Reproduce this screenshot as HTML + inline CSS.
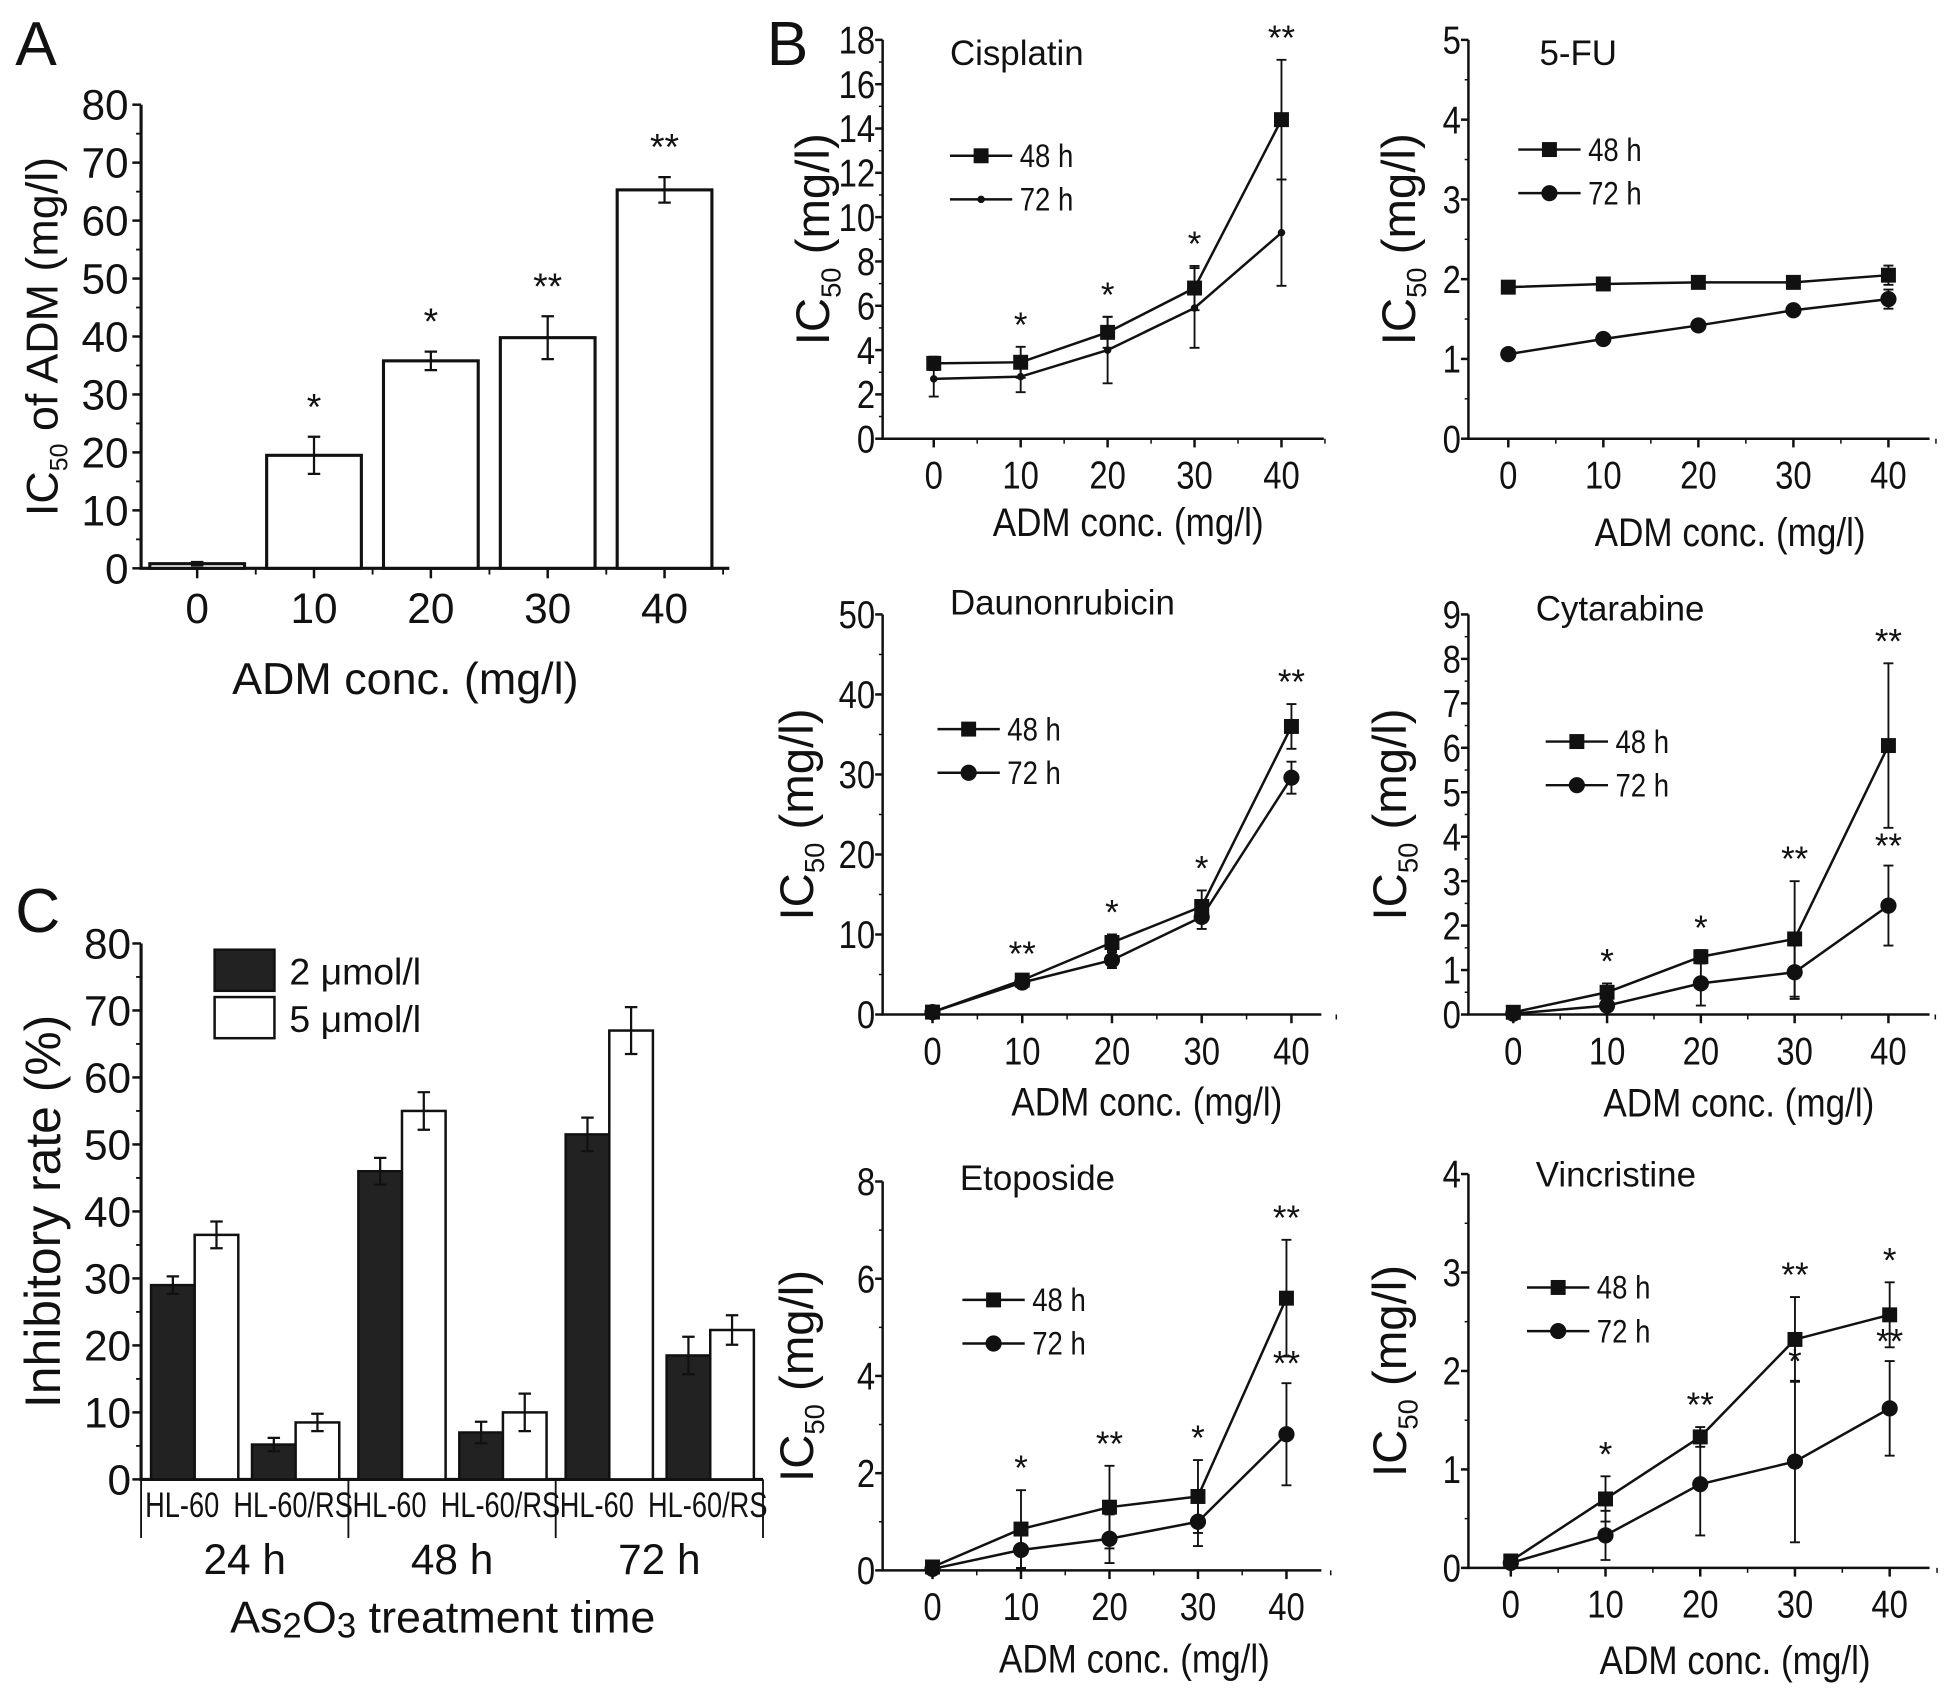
<!DOCTYPE html>
<html><head><meta charset="utf-8"><style>
html,body{margin:0;padding:0;background:#fff}
svg{display:block}
text{font-family:"Liberation Sans Narrow","Liberation Sans",sans-serif;fill:#111}
</style></head><body>
<svg id="fig" width="1951" height="1695" viewBox="0 0 1565 1360" xmlns="http://www.w3.org/2000/svg"></svg>
<script>
// ---- Panel A data
const aCats = ["0","10","20","30","40"];
const aVals = [0.8,19.5,35.8,39.8,65.3];
const aErrs = [0.3,3.2,1.6,3.7,2.2];
const aStars = ["","*","*","**","**"];
const aTicks = [0,10,20,30,40,50,60,70,80];
// ---- Panel B data
const xConc = [0,10,20,30,40];
const cis48 = [3.4,3.45,4.8,6.8,14.4], cis48e=[0.3,0.7,0.7,1.0,2.7];
const cis72 = [2.7,2.8,4.0,5.9,9.3], cis72e=[0.8,0.7,1.5,1.8,2.4];
const cisStars = ["","*","*","*","**"];
const fu48 = [1.9,1.94,1.96,1.96,2.05], fu48e=[0.05,0.05,0.05,0.05,0.12];
const fu72 = [1.06,1.25,1.42,1.61,1.75], fu72e=[0.04,0.04,0.04,0.04,0.12];
const fuStars = ["","","","",""];
const dau48 = [0.3,4.3,9.0,13.5,36.0], dau48e=[0.2,0.5,1.0,2.0,2.8];
const dau72 = [0.3,4.0,6.8,12.2,29.6], dau72e=[0.2,0.5,1.0,1.5,2.0];
const dauStars = ["","**","*","*","**"];
const cyt48 = [0.05,0.5,1.3,1.7,6.05], cyt48e=[0.05,0.2,0.15,1.3,1.85];
const cyt72 = [0.02,0.2,0.7,0.95,2.45], cyt72e=[0.02,0.2,0.5,0.6,0.9];
const cytStars = ["","*","*","**","**"];
const cytStars2 = ["","","","","**"];
const eto48 = [0.07,0.85,1.3,1.52,5.6], eto48e=[0.05,0.8,0.85,0.75,1.2];
const eto72 = [0.03,0.42,0.65,1.0,2.8], eto72e=[0.03,0.4,0.5,0.5,1.05];
const etoStars = ["","*","**","*","**"];
const etoStars2 = ["","","","","**"];
const vin48 = [0.07,0.7,1.33,2.32,2.57], vin48e=[0.03,0.23,0.1,0.43,0.33];
const vin72 = [0.05,0.33,0.85,1.08,1.62], vin72e=[0.03,0.25,0.52,0.82,0.48];
const vinStars = ["","*","**","**","*"];
const vinStars2 = ["","","","*","**"];
// ---- Panel C data
const cTimes = ["24 h","48 h","72 h"];
const cLines = ["HL-60","HL-60/RS"];
const c2 = [29,5.2,46,7,51.5,18.5];
const c2e = [1.3,1.0,2.0,1.6,2.5,2.8];
const c5 = [36.5,8.5,55,10,67,22.3];
const c5e = [2.0,1.3,2.8,2.8,3.5,2.2];
const cTicks = [0,10,20,30,40,50,60,70,80];

const svg = document.getElementById('fig');
const NS = "http://www.w3.org/2000/svg";
function el(tag, attrs, parent){const e=document.createElementNS(NS,tag);for(const k in attrs)e.setAttribute(k,attrs[k]);(parent||svg).appendChild(e);return e;}
function txt(s,x,y,size,anchor,parent){const t=el('text',{x:x,y:y,'font-size':size,'text-anchor':anchor||'middle'},parent);t.textContent=s;return t;}
function grp(name){const g=el('g',{});return g;}

// ===== Panel A =====
(function(){
  const g = grp('panel-a');
  const t=txt('A',12,52,50,'start',g);  
  const x0=113,x1=585,yb=456,yt=84,ymax=80;
  const Y=v=>yb-(v/ymax)*(yb-yt);
  const X=i=>158+i*93.75;
  const ax=el('path',{d:`M${x0} ${yt} L${x0} ${yb} L${x1} ${yb}`,stroke:'#111','stroke-width':2.5,fill:'none'},g);
   
  aTicks.forEach(v=>{el('line',{x1:x0-7,x2:x0,y1:Y(v),y2:Y(v),stroke:'#111','stroke-width':2},g);
    if(v<ymax) el('line',{x1:x0-4,x2:x0,y1:Y(v+5),y2:Y(v+5),stroke:'#111','stroke-width':1.5},g);
    const l=txt(String(v),x0-10,Y(v)+12,34,'end',g);  });
  aCats.forEach((c,i)=>{
    el('line',{x1:X(i),x2:X(i),y1:yb,y2:yb+8,stroke:'#111','stroke-width':2},g);
    el('line',{x1:X(i)+47,x2:X(i)+47,y1:yb,y2:yb+5,stroke:'#111','stroke-width':1.5},g);
    const l=txt(c,X(i),yb+44,34,'middle',g);  
    const b=el('rect',{x:X(i)-38,y:Y(aVals[i]),width:76,height:yb-Y(aVals[i]),fill:'#fff',stroke:'#111','stroke-width':2.5},g);
     
    const e1=Y(aVals[i]+aErrs[i]),e2=Y(aVals[i]-aErrs[i]);
    el('path',{d:`M${X(i)} ${e1}L${X(i)} ${e2}M${X(i)-5} ${e1}L${X(i)+5} ${e1}M${X(i)-5} ${e2}L${X(i)+5} ${e2}`,stroke:'#111','stroke-width':1.8,fill:'none'},g);
    if(aStars[i]){const s=txt(aStars[i],X(i),e1-14,30,'middle',g);}
  });
  const yt2=el('text',{transform:'translate(46,270) rotate(-90)','font-size':36,'text-anchor':'middle'},g);
  yt2.innerHTML='IC<tspan font-size="20" dy="8">50</tspan><tspan dy="-8"> of ADM (mg/l)</tspan>';
   
  const xt=txt('ADM conc. (mg/l)',325,557,36,'middle',g);  
})();

// ===== Panel B line panels =====
function linePanel(cfg){
  const g=grp(cfg.name);
  const {ax0,ax1,yb,yt,ymax,ystep,xs,title,tx,ty,lx,ly,s48,e48,s72,e72,stars,stars2,marker72,ytx,xtx,xty}=cfg;
  const Y=v=>yb-(v/ymax)*(yb-yt);
  const X=v=>xs[0]+(v/40)*(xs[1]-xs[0]);
  const ax=el('path',{d:`M${ax0} ${yt} L${ax0} ${yb} L${ax1} ${yb}`,stroke:'#111','stroke-width':2,fill:'none'},g);
   
  for(let v=0;v<=ymax+1e-9;v+=ystep){
    el('line',{x1:ax0-6,x2:ax0,y1:Y(v),y2:Y(v),stroke:'#111','stroke-width':2},g);
    if(v+ystep/2<=ymax) el('line',{x1:ax0-3,x2:ax0,y1:Y(v+ystep/2),y2:Y(v+ystep/2),stroke:'#111','stroke-width':1.2},g);
    const l=txt(String(Math.round(v*10)/10),ax0-6,Y(v)+11,31,'end',g); l.setAttribute('transform',`translate(${ax0-6} 0) scale(0.85 1) translate(${-(ax0-6)} 0)`);
     
  }
  xConc.forEach(c=>{el('line',{x1:X(c),x2:X(c),y1:yb,y2:yb+7,stroke:'#111','stroke-width':2},g);
    el('line',{x1:X(c+5),x2:X(c+5),y1:yb,y2:yb+4,stroke:'#111','stroke-width':1.2},g);
    const l=txt(String(c),X(c),yb+40,31,'middle',g); l.setAttribute('transform',`translate(${X(c)} 0) scale(0.85 1) translate(${-X(c)} 0)`);
     });
  const series=[[s48,e48,'sq','48h'],[s72,e72,marker72,'72h']];
  series.forEach(([s,e,m,nm])=>{
    const p=el('polyline',{points:xConc.map((c,i)=>X(c)+','+Y(s[i])).join(' '),fill:'none',stroke:'#111','stroke-width':2},g);
     
    xConc.forEach((c,i)=>{
      const x=X(c),a=Y(s[i]+e[i]),b=Y(Math.max(0,s[i]-e[i]));
      el('path',{d:`M${x} ${a}L${x} ${b}M${x-4} ${a}L${x+4} ${a}M${x-4} ${b}L${x+4} ${b}`,stroke:'#111','stroke-width':1.5,fill:'none'},g);
      let mk;
      if(m==='sq') mk=el('rect',{x:x-6,y:Y(s[i])-6,width:12,height:12,fill:'#111'},g);
      else if(m==='ci') mk=el('circle',{cx:x,cy:Y(s[i]),r:6.5,fill:'#111'},g);
      else mk=el('circle',{cx:x,cy:Y(s[i]),r:3,fill:'#111'},g);
       
    });
  });
  xConc.forEach((c,i)=>{
    if(stars[i]){const s=txt(stars[i],X(c),Y(s48[i]+e48[i])-8,28,'middle',g);}
    if(stars2&&stars2[i]){const s=txt(stars2[i],X(c),Y(s72[i]+e72[i])-6,28,'middle',g);}
  });
  const t=txt(title,tx,ty,28,'start',g);  
  [['48 h','sq',ly],['72 h',marker72,ly+35]].forEach(([lab,m,y])=>{
    const lg=grp('legend-entry'); g.appendChild(lg);
    el('line',{x1:lx,x2:lx+50,y1:y,y2:y,stroke:'#111','stroke-width':2},lg);
    if(m==='sq') el('rect',{x:lx+19,y:y-6,width:12,height:12,fill:'#111'},lg);
    else el('circle',{cx:lx+25,cy:y,r:m==='ci'?6.5:3,fill:'#111'},lg);
    const l=txt(lab,lx+56,y+9,26,'start',lg); l.setAttribute('transform',`translate(${lx+56} 0) scale(0.85 1) translate(${-(lx+56)} 0)`);
  });
  const yl=el('text',{transform:`translate(${ytx},${(yb+yt)/2}) rotate(-90)`,'font-size':38,'text-anchor':'middle'},g);
  yl.innerHTML='IC<tspan font-size="22" dy="9">50</tspan><tspan dy="-9">  (mg/l)</tspan>';
   
  const xl=txt('ADM conc. (mg/l)',xtx,xty,32,'middle',g); xl.setAttribute('transform',`translate(${xtx} 0) scale(0.88 1) translate(${-xtx} 0)`);
   
}
const bl=grp('panel-b-label'); txt('B',615,52,50,'start',bl);
linePanel({name:'cisplatin-chart',ax0:708,ax1:1062,yb:352,yt:32,ymax:18,ystep:2,xs:[749,1028],title:'Cisplatin',tx:762,ty:52,lx:762,ly:125,s48:cis48,e48:cis48e,s72:cis72,e72:cis72e,stars:cisStars,marker72:'dot',ytx:665,xtx:905,xty:430});
linePanel({name:'5fu-chart',ax0:1178,ax1:1548,yb:352,yt:32,ymax:5,ystep:1,xs:[1210,1515],title:'5-FU',tx:1235,ty:52,lx:1218,ly:120,s48:fu48,e48:fu48e,s72:fu72,e72:fu72e,stars:fuStars,marker72:'ci',ytx:1135,xtx:1388,xty:438});
linePanel({name:'daunorubicin-chart',ax0:708,ax1:1060,yb:814,yt:493,ymax:50,ystep:10,xs:[748,1036],title:'Daunonrubicin',tx:762,ty:493,lx:752,ly:585,s48:dau48,e48:dau48e,s72:dau72,e72:dau72e,stars:dauStars,marker72:'ci',ytx:652,xtx:920,xty:895});
linePanel({name:'cytarabine-chart',ax0:1178,ax1:1548,yb:814,yt:493,ymax:9,ystep:1,xs:[1214,1515],title:'Cytarabine',tx:1232,ty:498,lx:1240,ly:595,s48:cyt48,e48:cyt48e,s72:cyt72,e72:cyt72e,stars:cytStars,stars2:cytStars2,marker72:'ci',ytx:1128,xtx:1395,xty:896});
linePanel({name:'etoposide-chart',ax0:708,ax1:1060,yb:1260,yt:948,ymax:8,ystep:2,xs:[748,1032],title:'Etoposide',tx:770,ty:955,lx:772,ly:1043,s48:eto48,e48:eto48e,s72:eto72,e72:eto72e,stars:etoStars,stars2:etoStars2,marker72:'ci',ytx:652,xtx:910,xty:1342});
linePanel({name:'vincristine-chart',ax0:1178,ax1:1548,yb:1258,yt:942,ymax:4,ystep:1,xs:[1212,1516],title:'Vincristine',tx:1232,ty:952,lx:1225,ly:1033,s48:vin48,e48:vin48e,s72:vin72,e72:vin72e,stars:vinStars,stars2:vinStars2,marker72:'ci',ytx:1128,xtx:1392,xty:1343});

// ===== Panel C =====
(function(){
  const g=grp('panel-c');
  const t=txt('C',12,748,50,'start',g);  
  const x0=113,x1=612,yb=1187,yt=757,ymax=80;
  const Y=v=>yb-(v/ymax)*(yb-yt);
  const ax=el('path',{d:`M${x0} ${yt} L${x0} ${yb} L${x1} ${yb}`,stroke:'#111','stroke-width':2.5,fill:'none'},g);
   
  cTicks.forEach(v=>{el('line',{x1:x0-7,x2:x0,y1:Y(v),y2:Y(v),stroke:'#111','stroke-width':2},g);
    if(v<80) el('line',{x1:x0-4,x2:x0,y1:Y(v+5),y2:Y(v+5),stroke:'#111','stroke-width':1.5},g);
    const l=txt(String(v),x0-8,Y(v)+12,34,'end',g);  });
  const gw=(x1-x0)/3, bw=35;
  for(let k=0;k<=3;k++) el('line',{x1:x0+k*gw,x2:x0+k*gw,y1:yb,y2:yb+47,stroke:'#111','stroke-width':1.5},g);
  cTimes.forEach((tm,k)=>{
    const l=txt(tm,x0+k*gw+gw/2,yb+76,34,'middle',g);  
    const lx=[x0+k*gw+33, x0+k*gw+122];
    cLines.forEach((ln,j)=>{
      const i=k*2+j, cx=x0+k*gw+8+j*81+bw;
      const ll=txt(ln,lx[j],yb+30,28,'middle',g); ll.setAttribute('transform',`translate(${lx[j]} 0) scale(0.78 1) translate(${-lx[j]} 0)`);
       
      [[c2,c2e,'#222','2umol'],[c5,c5e,'#fff','5umol']].forEach(([vals,errs,fill,nm],s)=>{
        const bx=cx-bw+s*bw;
        const b=el('rect',{x:bx,y:Y(vals[i]),width:bw,height:yb-Y(vals[i]),fill:fill,stroke:'#111','stroke-width':2},g);
         
        const mx=bx+bw/2,a=Y(vals[i]+errs[i]),c=Y(vals[i]-errs[i]);
        el('path',{d:`M${mx} ${a}L${mx} ${c}M${mx-5} ${a}L${mx+5} ${a}M${mx-5} ${c}L${mx+5} ${c}`,stroke:'#111','stroke-width':1.8,fill:'none'},g);
      });
    });
  });
  [['2 μmol/l','#222',762],['5 μmol/l','#fff',800]].forEach(([lab,f,y])=>{
    const lg=grp('legend-entry'); g.appendChild(lg);
    el('rect',{x:172,y:y,width:48,height:33,fill:f,stroke:'#111','stroke-width':2},lg);
    txt(lab,232,y+28,30,'start',lg);
  });
  const yl=txt('Inhibitory rate (%)',0,0,40,'middle',g); yl.setAttribute('transform','translate(48,972) rotate(-90)');
   
  const xl=el('text',{x:355,y:1310,'font-size':36,'text-anchor':'middle'},g);
  xl.innerHTML='As<tspan font-size="28" dy="4">2</tspan><tspan dy="-4">O</tspan><tspan font-size="28" dy="4">3</tspan><tspan dy="-4"> treatment time</tspan>';
   
})();
</script>
</body></html>
